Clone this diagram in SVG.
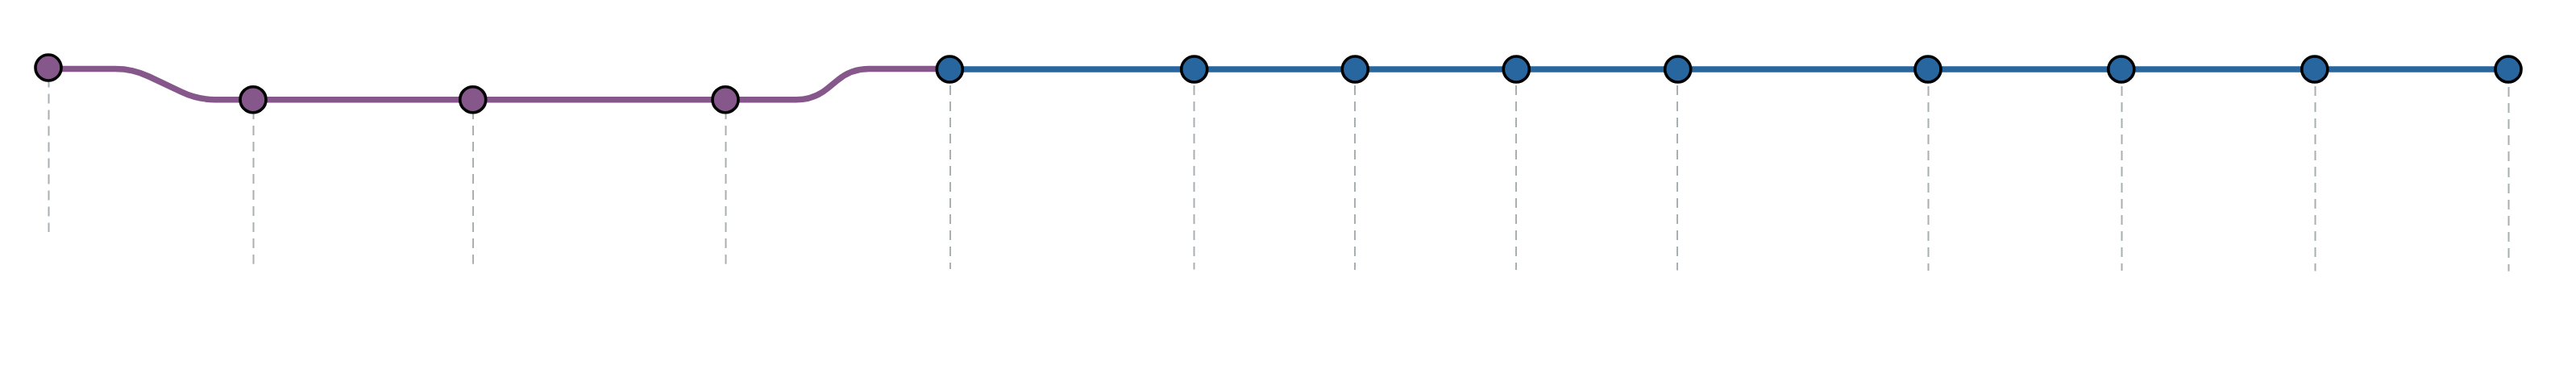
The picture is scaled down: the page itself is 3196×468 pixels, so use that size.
<svg xmlns="http://www.w3.org/2000/svg" width="3196" height="468" viewBox="0 0 3196 468">
<style>
.drop{stroke:#a9b0b3;stroke-width:2;stroke-dasharray:12,8;fill:none}
.route{fill:none;stroke-width:7.5;stroke-linejoin:round}
.purple{stroke:#85578b}
.blue{stroke:#2866a0}
.n{stroke:#000;stroke-width:3.6}
.np{fill:#85578b}
.nb{fill:#2866a0}
</style>
<rect width="3196" height="468" fill="#fff"/>
<g id="guides">
<line class="drop" x1="60.5" y1="96.5" x2="60.5" y2="288"/>
<line class="drop" x1="314.5" y1="136" x2="314.5" y2="327.7"/>
<line class="drop" x1="587" y1="136" x2="587" y2="327.7"/>
<line class="drop" x1="900.5" y1="136" x2="900.5" y2="327.7"/>
<line class="drop" x1="1179" y1="106" x2="1179" y2="334"/>
<line class="drop" x1="1481.5" y1="106" x2="1481.5" y2="334.5"/>
<line class="drop" x1="1681" y1="106" x2="1681" y2="335"/>
<line class="drop" x1="1881" y1="106" x2="1881" y2="335"/>
<line class="drop" x1="2081" y1="106" x2="2081" y2="335.5"/>
<line class="drop" x1="2392.5" y1="107" x2="2392.5" y2="336"/>
<line class="drop" x1="2632.5" y1="107" x2="2632.5" y2="336"/>
<line class="drop" x1="2872.5" y1="107" x2="2872.5" y2="336.5"/>
<line class="drop" x1="3112.5" y1="108" x2="3112.5" y2="336.7"/>
</g>
<g id="connectors">
<path class="route purple" d="M60,85.5 H143 Q165,85.5 184.8,95 L225.2,114.2 Q245,123.7 267,123.7 H988 Q1010,123.7 1026.9,109.6 L1039.1,99.6 Q1056,85.5 1078,85.5 H1178.3"/>
<path class="route blue" d="M1178.3,86 H3112"/>
</g>
<g id="node1"><circle class="n np" cx="60" cy="84" r="16"/></g>
<g id="node2"><circle class="n np" cx="314" cy="123.7" r="16"/></g>
<g id="node3"><circle class="n np" cx="586.7" cy="123.7" r="16"/></g>
<g id="node4"><circle class="n np" cx="900" cy="123.7" r="16"/></g>
<g id="node5"><circle class="n nb" cx="1178.3" cy="86" r="16"/></g>
<g id="node6"><circle class="n nb" cx="1481.7" cy="86" r="16"/></g>
<g id="node7"><circle class="n nb" cx="1681.3" cy="86" r="16"/></g>
<g id="node8"><circle class="n nb" cx="1881.3" cy="86" r="16"/></g>
<g id="node9"><circle class="n nb" cx="2081.7" cy="86" r="16"/></g>
<g id="node10"><circle class="n nb" cx="2392" cy="86" r="16"/></g>
<g id="node11"><circle class="n nb" cx="2631.8" cy="86" r="16"/></g>
<g id="node12"><circle class="n nb" cx="2871.8" cy="86" r="16"/></g>
<g id="node13"><circle class="n nb" cx="3112" cy="86" r="16"/></g>
</svg>
